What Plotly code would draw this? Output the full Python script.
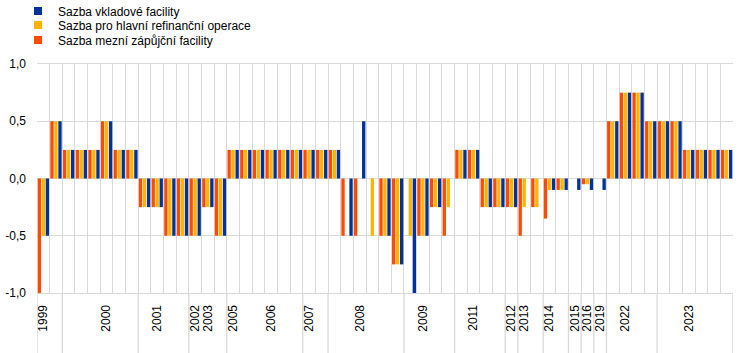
import plotly.graph_objects as go

# ECB key interest rate decisions (change in percentage points)
dates = [
    "1999-04-09", "1999-11-05",
    "2000-02-04", "2000-03-17", "2000-04-28", "2000-06-09", "2000-09-01", "2000-10-06",
    "2001-05-11", "2001-08-31", "2001-09-18", "2001-11-09",
    "2002-12-06",
    "2003-03-07", "2003-06-06",
    "2005-12-06",
    "2006-03-08", "2006-06-15", "2006-08-09", "2006-10-11", "2006-12-13",
    "2007-03-14", "2007-06-13",
    "2008-07-09", "2008-10-08", "2008-10-09", "2008-10-15", "2008-11-12", "2008-12-10",
    "2009-01-21", "2009-03-11", "2009-04-08", "2009-05-13",
    "2011-04-13", "2011-07-13", "2011-11-09", "2011-12-14",
    "2012-07-11",
    "2013-05-08", "2013-11-13",
    "2014-06-11", "2014-09-10",
    "2015-12-09",
    "2016-03-16",
    "2019-09-18",
    "2022-07-27", "2022-09-14", "2022-11-02", "2022-12-21",
    "2023-02-08", "2023-03-22", "2023-05-10", "2023-06-21", "2023-08-02", "2023-09-20",
]

marginal_lending = [
    -1.0, 0.5,
    0.25, 0.25, 0.25, 0.5, 0.25, 0.25,
    -0.25, -0.25, -0.5, -0.5,
    -0.5,
    -0.25, -0.5,
    0.25,
    0.25, 0.25, 0.25, 0.25, 0.25,
    0.25, 0.25,
    0.25, -0.5, -0.5, 0.0, -0.5, -0.75,
    0.0, -0.5, -0.25, -0.5,
    0.25, 0.25, -0.25, -0.25,
    -0.25,
    -0.5, -0.25,
    -0.35, -0.1,
    0.0,
    -0.05,
    0.0,
    0.5, 0.75, 0.75, 0.5,
    0.5, 0.5, 0.25, 0.25, 0.25, 0.25,
]

main_refi = [
    -0.5, 0.5,
    0.25, 0.25, 0.25, 0.5, 0.25, 0.25,
    -0.25, -0.25, -0.5, -0.5,
    -0.5,
    -0.25, -0.5,
    0.25,
    0.25, 0.25, 0.25, 0.25, 0.25,
    0.25, 0.25,
    0.25, 0.0, 0.0, -0.5, -0.5, -0.75,
    -0.5, -0.5, -0.25, -0.25,
    0.25, 0.25, -0.25, -0.25,
    -0.25,
    -0.25, -0.25,
    -0.1, -0.1,
    0.0,
    -0.05,
    0.0,
    0.5, 0.75, 0.75, 0.5,
    0.5, 0.5, 0.25, 0.25, 0.25, 0.25,
]

deposit = [
    -0.5, 0.5,
    0.25, 0.25, 0.25, 0.5, 0.25, 0.25,
    -0.25, -0.25, -0.5, -0.5,
    -0.5,
    -0.25, -0.5,
    0.25,
    0.25, 0.25, 0.25, 0.25, 0.25,
    0.25, 0.25,
    0.25, -0.5, 0.5, 0.0, -0.5, -0.75,
    -1.0, -0.5, -0.25, 0.0,
    0.25, 0.25, -0.25, -0.25,
    -0.25,
    0.0, 0.0,
    -0.1, -0.1,
    -0.1,
    -0.1,
    -0.1,
    0.5, 0.75, 0.75, 0.5,
    0.5, 0.5, 0.25, 0.25, 0.25, 0.25,
]

# decision at which each year label is shown
year_label_at = {
    "1999-04-09": "1999", "2000-06-09": "2000", "2001-08-31": "2001",
    "2002-12-06": "2002", "2003-03-07": "2003", "2005-12-06": "2005",
    "2006-08-09": "2006", "2007-03-14": "2007", "2008-10-09": "2008",
    "2009-03-11": "2009", "2011-07-13": "2011", "2012-07-11": "2012",
    "2013-05-08": "2013", "2014-06-11": "2014", "2015-12-09": "2015",
    "2016-03-16": "2016", "2019-09-18": "2019", "2022-09-14": "2022",
    "2023-05-10": "2023",
}
# years sharing one label block on the axis
merged_years = {"2003": "2002", "2006": "2005"}

names = ["Sazba mezní zápůjční facility", "Sazba pro hlavní refinanční operace",
         "Sazba vkladové facility"]
colors = ["#FF4B00", "#FFB400", "#003299"]
series = [marginal_lending, main_refi, deposit]

FONT = "Liberation Sans, Arial, sans-serif"
GRID = "#D9D9D9"

W, H = 747, 353
ML, MR, MT, MB = 37, 14, 64, 60
plot_w = W - ML - MR
plot_h = H - MT - MB

fig = go.Figure()
for name, col, vals in zip(names, colors, series):
    fig.add_trace(go.Bar(x=dates, y=vals, name=name, marker_color=col,
                         marker_line_width=0, showlegend=False))

# legend entries (separate legends to match the tight spacing)
legend_rows = {"Sazba vkladové facility": ("legend", 11),
               "Sazba pro hlavní refinanční operace": ("legend2", 25),
               "Sazba mezní zápůjční facility": ("legend3", 40)}
for name, col in zip(names, colors):
    lg, _ = legend_rows[name]
    fig.add_trace(go.Scatter(x=[None], y=[None], mode="markers", name=name,
                             marker=dict(symbol="square", size=8, color=col),
                             showlegend=True, legend=lg))

leg_common = dict(xref="paper", yref="paper", x=(18 - ML) / plot_w, xanchor="left",
                  yanchor="middle", orientation="v", bgcolor="rgba(0,0,0,0)", borderwidth=0,
                  font=dict(family=FONT, size=12, color="#000000"))
for name, (lg, yc) in legend_rows.items():
    fig.update_layout({lg: dict(leg_common, y=(H - MB - yc) / plot_h)})

ticktext = [year_label_at.get(d, "") for d in dates]

# boundary lines below the axis between year blocks
groups = []
for d in dates:
    y = d[:4]
    groups.append(merged_years.get(y, y))
bounds = [-0.5] + [i - 0.5 for i in range(1, len(groups)) if groups[i] != groups[i - 1]] + [len(groups) - 0.5]
for b in bounds:
    fig.add_shape(type="line", xref="x", yref="paper", x0=b, x1=b, y0=0, y1=-MB / plot_h,
                  line=dict(color=GRID, width=1.3), layer="below")

fig.update_layout(
    width=W, height=H, autosize=False,
    margin=dict(l=ML, r=MR, t=MT, b=MB, autoexpand=False),
    plot_bgcolor="white", paper_bgcolor="white",
    barmode="group", bargap=0.05, bargroupgap=0.17,
    font=dict(family=FONT, size=12, color="#000000"),
    xaxis=dict(type="category", tickmode="array", tickvals=dates, ticktext=ticktext,
               tickson="boundaries", tickangle=-90, ticks="", showgrid=True,
               gridcolor=GRID, gridwidth=1.3, showline=True, linecolor=GRID,
               linewidth=1.3, mirror=True, range=[-0.5, len(dates) - 0.5],
               ticklabelstandoff=6, tickfont=dict(size=12, color="#000000")),
    yaxis=dict(range=[-1, 1], tickmode="array", tickvals=[-1, -0.5, 0, 0.5, 1],
               ticktext=["-1,0", "-0,5", "0,0", "0,5", "1,0"], showgrid=True,
               gridcolor=GRID, gridwidth=1.3, zeroline=False, showline=False,
               ticks="", ticklabelstandoff=10, tickfont=dict(size=12, color="#000000")),
)

fig.write_html("out.html")
